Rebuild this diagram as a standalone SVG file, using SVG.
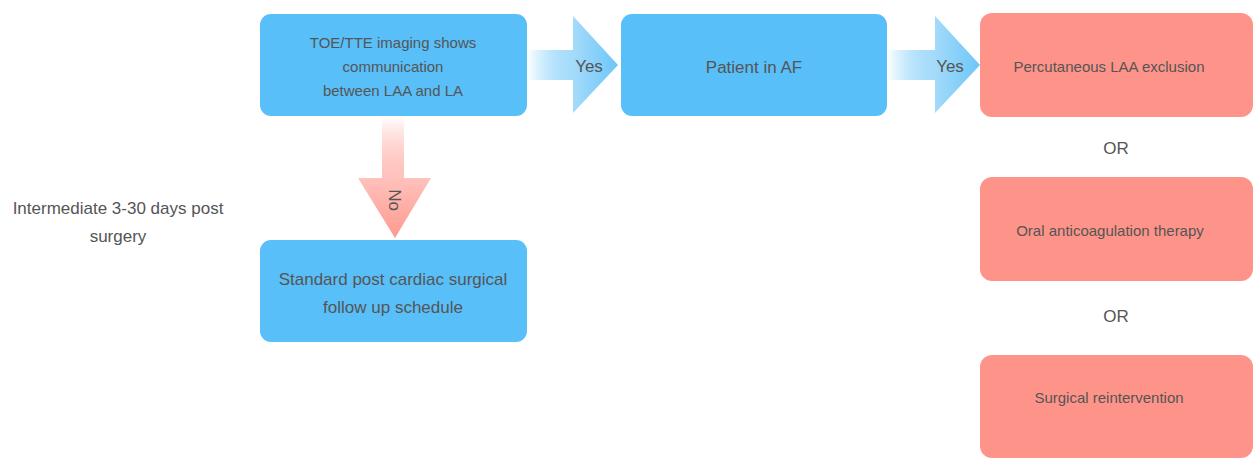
<svg xmlns="http://www.w3.org/2000/svg" width="1259" height="458" viewBox="0 0 1259 458">
<style>
.blue{fill:#58BFF9}
.red{fill:#FE9489}
text{font-family:"Liberation Sans",Arial,sans-serif;fill:#555;text-anchor:middle}
.t15{font-size:15px}
.t17{font-size:17px}
</style>
<defs>
<linearGradient id="gb" x1="0" y1="0" x2="1" y2="0">
<stop offset="0" stop-color="#58BFF9" stop-opacity="0"/>
<stop offset="0.5" stop-color="#A5DBFA"/>
<stop offset="1" stop-color="#6CC6F8"/>
</linearGradient>
<linearGradient id="gr" x1="0" y1="0" x2="0" y2="1">
<stop offset="0" stop-color="#FE9489" stop-opacity="0"/>
<stop offset="0.5" stop-color="#FFC2BC"/>
<stop offset="1" stop-color="#FE9A90"/>
</linearGradient>
</defs>
<g id="connectors">
<g id="arrow-yes-1">
<path d="M527,50 H573 V16 L618,65 L573,113 V80 H527 Z" fill="url(#gb)"/>
<text class="t17" x="589" y="72">Yes</text>
</g>
<g id="arrow-yes-2">
<path d="M887,50 H935 V16 L980,65 L935,113 V80 H887 Z" fill="url(#gb)"/>
<text class="t17" x="950" y="72">Yes</text>
</g>
<g id="arrow-no">
<path d="M382,116 V178 H358 L395,238 L431,178 H404 V116 Z" fill="url(#gr)"/>
<text class="t17" transform="translate(389,200) rotate(90)">No</text>
</g>
</g>
<g id="node-imaging">
<rect class="blue" x="260" y="14" width="267" height="102" rx="11"/>
<text class="t15" x="393" y="48">TOE/TTE imaging shows</text>
<text class="t15" x="393" y="72">communication</text>
<text class="t15" x="393" y="96">between LAA and LA</text>
</g>
<g id="node-af">
<rect class="blue" x="621" y="14" width="266" height="102" rx="11"/>
<text class="t17" x="754" y="73">Patient in AF</text>
</g>
<g id="node-percutaneous">
<rect class="red" x="980" y="13" width="273" height="104" rx="12"/>
<text class="t15" x="1109" y="72">Percutaneous LAA exclusion</text>
</g>
<g id="or-1"><text class="t17" x="1116" y="154">OR</text></g>
<g id="node-oral">
<rect class="red" x="980" y="177" width="273" height="104" rx="12"/>
<text class="t15" x="1110" y="236">Oral anticoagulation therapy</text>
</g>
<g id="or-2"><text class="t17" x="1116" y="322">OR</text></g>
<g id="node-surgical">
<rect class="red" x="980" y="355" width="273" height="103" rx="12"/>
<text class="t15" x="1109" y="403">Surgical reintervention</text>
</g>
<g id="node-standard">
<rect class="blue" x="260" y="240" width="267" height="102" rx="11"/>
<text class="t17" x="393" y="285">Standard post cardiac surgical</text>
<text class="t17" x="393" y="313">follow up schedule</text>
</g>
<g id="label-intermediate">
<text class="t17" x="118" y="214">Intermediate 3-30 days post</text>
<text class="t17" x="118" y="242">surgery</text>
</g>
</svg>
